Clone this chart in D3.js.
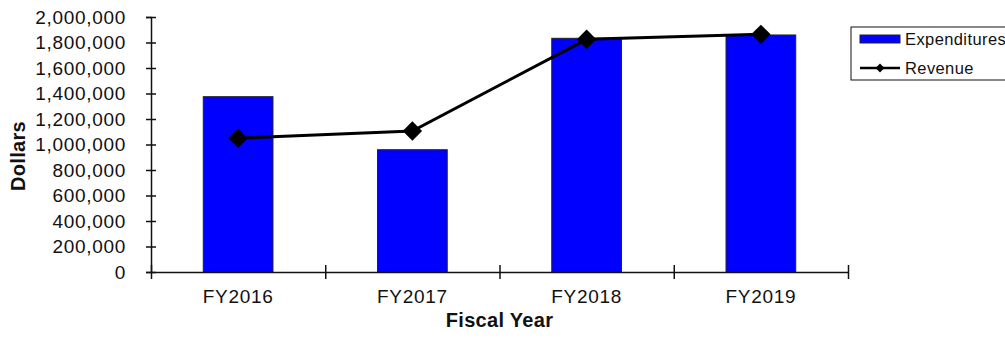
<!DOCTYPE html>
<html>
<head>
<meta charset="utf-8">
<script src="https://cdn.jsdelivr.net/npm/d3@7"></script>
<style>
  html, body { margin: 0; padding: 0; background: #fff; }
  svg { display: block; font-family: "Liberation Sans", Arial, sans-serif; }
</style>
</head>
<body>
<svg id="chart" width="1005" height="339"></svg>
<script>
// Fiscal years and dollar amounts
const categories = ["FY2016", "FY2017", "FY2018", "FY2019"];
const expenditures = [1375000, 959000, 1833000, 1859000];
const revenue = [1049000, 1106000, 1825000, 1864000];
const yTicks = [0, 200000, 400000, 600000, 800000, 1000000, 1200000, 1400000, 1600000, 1800000, 2000000];

const svg = d3.select("#chart");
const plotLeft = 151, plotRight = 848, plotTop = 17, plotBottom = 272;

const x = d3.scaleBand().domain(categories).range([plotLeft, plotRight])
  .paddingInner(0.6).paddingOuter(0.3);
const xEdge = d3.scaleLinear().domain([0, categories.length]).range([plotLeft, plotRight]);
const y = d3.scaleLinear().domain([0, 2000000]).range([plotBottom, plotTop]);

const fmt = d3.format(",");

// Bars
svg.append("g").selectAll("rect").data(categories).join("rect")
  .attr("x", d => x(d))
  .attr("y", (d, i) => y(expenditures[i]))
  .attr("width", x.bandwidth())
  .attr("height", (d, i) => y(0) - y(expenditures[i]))
  .attr("fill", "#0000ff")
  .attr("stroke", "#222")
  .attr("stroke-width", 1);

// Y axis with crossing ticks
const gy = svg.append("g").attr("transform", `translate(${plotLeft},0)`)
  .call(d3.axisLeft(y).tickValues(yTicks).tickFormat(fmt).tickSize(5).tickPadding(20));
gy.select(".domain").attr("stroke", "#111").attr("stroke-width", 1.5);
gy.selectAll(".tick line").attr("x1", 5).attr("stroke", "#111").attr("stroke-width", 1.5);
gy.selectAll(".tick text")
  .attr("font-size", 19).attr("letter-spacing", 0.7).attr("fill", "#111")
  .attr("font-family", "Liberation Sans, Arial, sans-serif");

// X axis: category boundary ticks
const gx = svg.append("g").attr("transform", `translate(0,${plotBottom})`)
  .call(d3.axisBottom(xEdge).tickValues(d3.range(categories.length + 1)).tickFormat("").tickSize(7).tickSizeOuter(0));
gx.select(".domain").attr("stroke", "#111").attr("stroke-width", 1.5);
gx.selectAll(".tick line").attr("y1", -7).attr("stroke", "#111").attr("stroke-width", 1.5);

// X category labels
const gxl = svg.append("g").attr("transform", `translate(0,${plotBottom})`)
  .call(d3.axisBottom(x).tickSize(0).tickPadding(18));
gxl.select(".domain").remove();
gxl.selectAll(".tick text")
  .attr("font-size", 19).attr("letter-spacing", 0.7).attr("fill", "#111")
  .attr("font-family", "Liberation Sans, Arial, sans-serif");

// Revenue line with diamond markers
const line = d3.line().x((d, i) => x(categories[i]) + x.bandwidth() / 2).y(d => y(d));
svg.append("path").datum(revenue)
  .attr("d", line).attr("fill", "none").attr("stroke", "#000").attr("stroke-width", 3);
const diamond = d3.symbol().type(d3.symbolDiamond2).size(240);
svg.append("g").selectAll("path").data(revenue).join("path")
  .attr("transform", (d, i) => `translate(${x(categories[i]) + x.bandwidth() / 2},${y(d)})`)
  .attr("d", diamond).attr("fill", "#000");

// Axis titles
svg.append("text")
  .attr("x", (plotLeft + plotRight) / 2).attr("y", 327)
  .attr("text-anchor", "middle").attr("font-size", 20).attr("font-weight", "bold")
  .attr("letter-spacing", 0.3).attr("fill", "#111")
  .text("Fiscal Year");
svg.append("text")
  .attr("transform", "translate(25,156) rotate(-90)")
  .attr("text-anchor", "middle").attr("font-size", 20).attr("font-weight", "bold")
  .attr("letter-spacing", 0.3).attr("fill", "#111")
  .text("Dollars");

// Legend
const lg = svg.append("g");
lg.append("rect").attr("x", 851).attr("y", 27).attr("width", 170).attr("height", 53)
  .attr("fill", "#fff").attr("stroke", "#111").attr("stroke-width", 1);
lg.append("rect").attr("x", 860).attr("y", 35).attr("width", 40).attr("height", 8)
  .attr("fill", "#0000ff").attr("stroke", "#222").attr("stroke-width", 1);
lg.append("text").attr("x", 905).attr("y", 45).attr("font-size", 16.5)
  .attr("letter-spacing", 0.4).attr("fill", "#111").text("Expenditures");
lg.append("line").attr("x1", 860).attr("x2", 900).attr("y1", 68).attr("y2", 68)
  .attr("stroke", "#000").attr("stroke-width", 2.5);
lg.append("path").attr("transform", "translate(880,68)")
  .attr("d", d3.symbol().type(d3.symbolDiamond2).size(50)).attr("fill", "#000");
lg.append("text").attr("x", 905).attr("y", 74).attr("font-size", 16.5)
  .attr("letter-spacing", 0.4).attr("fill", "#111").text("Revenue");
</script>
</body>
</html>
